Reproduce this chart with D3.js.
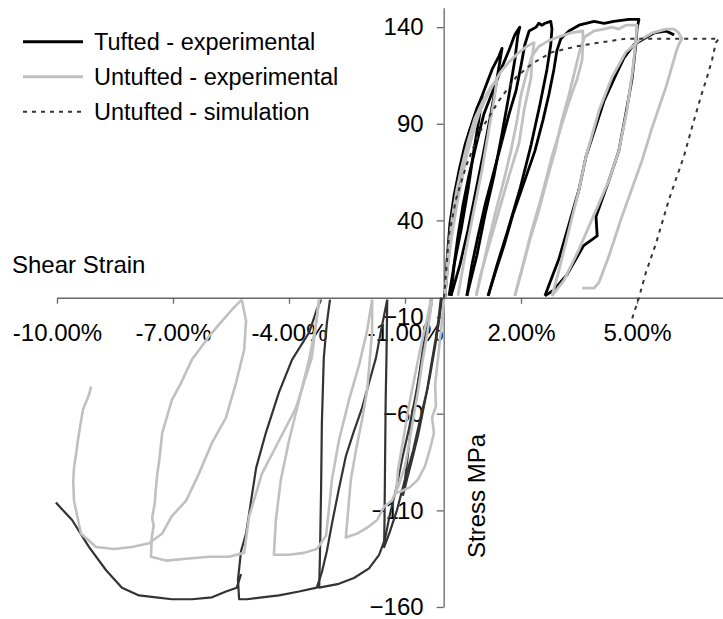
<!DOCTYPE html>
<html>
<head>
<meta charset="utf-8">
<script src="https://cdn.jsdelivr.net/npm/d3@7"></script>
<style>
    html, body { margin: 0; padding: 0; background: #fff; }
    #graph text { font-family: "Liberation Sans", Arial, sans-serif; font-size: 24px; fill: #000; }
</style>
</head>
<body>
<div id="graph"></div>
<script>
// axis ticks
var xTicks = [-10, -7, -4, -1, 2, 5];
var yTicks = [-160, -110, -60, -10, 40, 90, 140];
var seriesNames = ["Tufted - experimental", "Untufted - experimental", "Untufted - simulation"];

// [shear strain %, stress MPa], one inner array per loop
var tuftedPos = [
    [[0.03,0],[0.09,20],[0.16,38],[0.27,53],[0.40,66],[0.55,79],[0.71,89],[0.86,98],[0.99,104],[0.91,92],[0.78,76],[0.63,56],[0.45,35],[0.27,17],[0.14,1]],
    [[0.03,0],[0.09,14],[0.16,30],[0.27,45],[0.37,58],[0.50,71],[0.65,85],[0.84,96],[1.04,107],[1.25,118],[1.43,125],[1.51,129],[1.46,123],[1.35,110],[1.22,95],[1.04,76],[0.84,56],[0.63,35],[0.42,17],[0.19,1]],
    [[0.19,1],[0.27,17],[0.37,32],[0.50,48],[0.65,63],[0.84,79],[1.04,95],[1.27,107],[1.48,118],[1.69,128],[1.84,136],[1.97,140],[1.92,136],[1.84,123],[1.69,105],[1.51,85],[1.30,63],[1.07,43],[0.86,22],[0.60,1]],
    [[0.60,1],[0.73,17],[0.89,32],[1.07,48],[1.27,63],[1.48,79],[1.69,95],[1.87,107],[2.00,120],[2.10,131],[2.21,138],[2.39,140],[2.46,142],[2.54,141],[2.62,142],[2.77,143],[2.80,139],[2.77,131],[2.67,118],[2.49,100],[2.26,79],[1.97,56],[1.66,35],[1.38,17],[1.15,1]],
    [[1.15,1],[1.35,14],[1.56,27],[1.79,43],[2.05,58],[2.36,76],[2.57,92],[2.72,105],[2.85,118],[2.93,128],[3.03,134],[3.24,138],[3.50,141],[3.89,143],[4.15,142],[4.40,143],[4.79,144],[5.05,144],[5.00,139],[4.97,131],[4.87,113],[4.71,95],[4.53,76],[4.28,61],[3.94,42],[3.97,32],[3.62,27],[3.19,12],[2.85,4],[2.62,1]],
    [[2.62,1],[2.77,9],[2.98,20],[3.24,38],[3.50,56],[3.68,73],[3.94,89],[4.15,102],[4.40,113],[4.66,124],[4.92,131],[5.18,134],[5.44,137],[5.75,138],[5.96,136]]
];

var tuftedNeg = [
    [[-0.04,0],[-0.12,-12],[-0.22,-25],[-0.35,-40],[-0.51,-56],[-0.66,-71],[-0.82,-84],[-0.95,-94],[-1.05,-102],[-0.97,-89],[-0.85,-68],[-0.69,-48],[-0.54,-27],[-0.41,-12],[-0.33,-1]],
    [[-0.07,0],[-0.17,-17],[-0.30,-32],[-0.43,-48],[-0.61,-63],[-0.79,-79],[-1.00,-94],[-1.21,-110],[-1.39,-121],[-1.54,-129],[-1.53,-115],[-1.52,-94],[-1.51,-74],[-1.50,-53],[-1.48,-32],[-1.47,-17],[-1.46,-1]],
    [[-0.30,-1],[-0.43,-17],[-0.56,-32],[-0.72,-50],[-0.90,-68],[-1.08,-84],[-1.23,-99],[-1.39,-112],[-1.52,-125],[-1.67,-133],[-1.93,-140],[-2.32,-145],[-2.71,-148],[-3.22,-150],[-3.20,-134],[-3.17,-99],[-3.15,-65],[-3.10,-31],[-3.02,-13],[-2.94,-1]],
    [[-1.46,-1],[-1.62,-17],[-1.75,-31],[-1.93,-44],[-2.11,-57],[-2.32,-69],[-2.53,-82],[-2.71,-99],[-2.89,-117],[-3.02,-131],[-3.15,-142],[-3.28,-150],[-3.74,-152],[-4.26,-154],[-4.70,-155],[-5.09,-156],[-5.29,-156],[-5.32,-146],[-5.24,-131],[-5.11,-122],[-4.98,-105],[-4.85,-88],[-4.60,-70],[-4.26,-49],[-3.92,-32],[-3.48,-18],[-3.28,-6],[-3.17,-1]],
    [[-5.24,-143],[-5.35,-150],[-5.63,-152],[-5.99,-155],[-6.51,-156],[-7.03,-156],[-7.44,-155],[-7.88,-154],[-8.32,-150],[-8.73,-141],[-9.17,-129],[-9.61,-115],[-10.03,-106]]
];

var untuftedPos = [
    [[0.03,0],[0.11,22],[0.21,40],[0.34,56],[0.47,68],[0.63,81],[0.81,93],[1.02,102],[1.22,109],[1.38,113],[1.30,102],[1.17,87],[0.99,66],[0.78,45],[0.58,25],[0.37,1]],
    [[0.03,0],[0.11,17],[0.21,32],[0.34,48],[0.47,61],[0.60,74],[0.76,85],[0.91,95],[1.09,103],[1.27,110],[1.48,117],[1.69,122],[1.95,127],[2.15,130],[2.34,132],[2.28,123],[2.26,114],[2.08,97],[1.95,80],[1.69,63],[1.43,45],[1.17,27],[0.96,12],[0.84,1]],
    [[0.84,1],[0.99,14],[1.17,30],[1.35,45],[1.56,61],[1.74,76],[1.90,92],[2.00,105],[2.13,115],[2.28,125],[2.46,130],[2.72,133],[2.98,135],[3.29,137],[3.60,138],[3.60,131],[3.58,123],[3.45,113],[3.32,106],[3.06,90],[2.80,73],[2.54,53],[2.28,35],[2.05,17],[1.84,1]],
    [[1.84,1],[2.02,14],[2.23,30],[2.46,45],[2.67,61],[2.88,76],[3.06,92],[3.24,105],[3.40,118],[3.52,128],[3.65,135],[3.89,138],[4.15,139],[4.35,140],[4.53,139],[4.71,141],[5.00,141],[4.97,133],[4.89,118],[4.74,97],[4.53,76],[4.28,61],[3.89,43],[3.50,25],[3.11,9],[2.80,1]],
    [[2.80,1],[2.98,14],[3.24,35],[3.50,56],[3.68,73],[4.02,97],[4.35,114],[4.71,127],[5.05,133],[5.39,137],[5.75,139],[5.96,139],[6.08,137],[6.16,134],[6.08,131],[6.01,127],[5.75,109],[5.39,88],[5.13,71],[4.61,42],[4.28,22],[4.02,8],[3.89,5],[3.58,5]]
];

var untuftedNeg = [
    [[0.01,-1],[-0.07,-17],[-0.15,-32],[-0.22,-45],[-0.20,-56],[-0.30,-62],[-0.25,-70],[-0.35,-78],[-0.48,-87],[-0.66,-94],[-0.87,-98],[-1.08,-100],[-1.23,-101],[-1.18,-89],[-1.05,-74],[-0.90,-56],[-0.74,-40],[-0.59,-25],[-0.43,-11],[-0.33,-1]],
    [[-0.30,-1],[-0.41,-17],[-0.54,-32],[-0.66,-48],[-0.79,-63],[-0.90,-76],[-1.00,-87],[-1.16,-97],[-1.34,-105],[-1.54,-108],[-1.72,-115],[-1.98,-119],[-2.24,-122],[-2.53,-124],[-2.47,-110],[-2.40,-94],[-2.27,-79],[-2.11,-63],[-1.98,-48],[-1.91,-32],[-1.85,-17],[-1.85,-1]],
    [[-1.85,-1],[-1.98,-17],[-2.19,-35],[-2.45,-53],[-2.71,-74],[-2.89,-94],[-2.97,-110],[-3.04,-123],[-3.28,-130],[-3.61,-132],[-4.00,-133],[-4.39,-133],[-4.34,-115],[-4.21,-94],[-4.00,-74],[-3.74,-53],[-3.48,-32],[-3.33,-17],[-3.22,-1]],
    [[-3.22,-1],[-3.41,-31],[-3.82,-57],[-4.26,-74],[-4.70,-91],[-5.03,-113],[-5.16,-132],[-5.55,-134],[-6.07,-134],[-6.66,-135],[-7.18,-136],[-7.57,-134],[-7.55,-124],[-7.50,-118],[-7.54,-114],[-7.47,-106],[-7.44,-98],[-7.40,-90],[-7.36,-85],[-7.28,-70],[-7.03,-53],[-6.79,-44],[-6.51,-32],[-5.99,-18],[-5.47,-6],[-5.22,-1]],
    [[-5.22,-1],[-5.11,-12],[-5.16,-27],[-5.37,-44],[-5.63,-62],[-5.99,-75],[-6.33,-91],[-6.66,-105],[-7.03,-113],[-7.28,-122],[-7.62,-127],[-8.06,-129],[-8.53,-130],[-8.99,-129],[-9.38,-122],[-9.56,-105],[-9.58,-95],[-9.56,-88],[-9.50,-80],[-9.46,-74],[-9.43,-70],[-9.33,-58],[-9.17,-50],[-9.12,-46]]
];

var untuftedSim = [[0.01,0],[0.14,33],[0.32,51],[0.58,68],[0.91,85],[1.43,102],[1.87,114],[2.28,121],[2.80,127],[3.42,130],[4.02,132],[4.71,134],[5.57,134],[7.12,134],[7.04,132],[6.94,123],[6.81,114],[6.65,104],[6.42,88],[6.21,73],[5.83,51],[5.49,28],[5.23,13],[5.05,0],[4.87,-11]];

var width = 723,
    height = 619;

var svg = d3.select("#graph")
    .append("svg")
    .attr("width", width)
    .attr("height", height);

var xScale = d3.scaleLinear().domain([-10, 8]).range([57, 753]);
var yScale = d3.scaleLinear().domain([-160, 150]).range([607, 7.8]);

var xAxis = d3.axisBottom(xScale)
    .tickValues(xTicks)
    .tickSize(6)
    .tickSizeOuter(0)
    .tickPadding(20)
    .tickFormat(function (d) { return d.toFixed(2) + "%"; });

var yAxis = d3.axisLeft(yScale)
    .tickValues(yTicks)
    .tickSize(7)
    .tickSizeOuter(0)
    .tickPadding(13);

svg.append("g")
    .attr("class", "axis axis--x")
    .attr("transform", "translate(0," + yScale(0) + ")")
    .style("color", "#666")
    .call(xAxis);

svg.append("g")
    .attr("class", "axis axis--y")
    .attr("transform", "translate(" + xScale(0) + ",0)")
    .style("color", "#666")
    .call(yAxis);

svg.selectAll(".axis path, .axis line").attr("stroke-width", 1.3);

// axis titles
svg.append("text")
    .attr("x", 12)
    .attr("y", 273)
    .text("Shear Strain");

svg.append("text")
    .attr("transform", "translate(485,496) rotate(-90)")
    .attr("text-anchor", "middle")
    .text("Stress MPa");

var line = d3.line()
    .x(function (d) { return xScale(d[0]); })
    .y(function (d) { return yScale(d[1]); });

function drawLoops(loops, color, w, dash) {
    svg.append("g")
        .selectAll("path")
        .data(loops)
        .enter().append("path")
        .attr("d", line)
        .attr("fill", "none")
        .attr("stroke", color)
        .attr("stroke-width", w)
        .attr("stroke-dasharray", dash)
        .attr("stroke-linejoin", "round");
}

drawLoops(tuftedNeg, "#333", 2.2, null);
drawLoops(tuftedPos, "#000", 2.8, null);
drawLoops(untuftedNeg, "#c0c0c0", 2.6, null);
drawLoops(untuftedPos, "#c0c0c0", 2.8, null);
drawLoops([untuftedSim], "#333", 2, "4,5");

// legend
var legendStyle = [
    {color: "#000", w: 3, dash: null},
    {color: "#c0c0c0", w: 3, dash: null},
    {color: "#333", w: 2, dash: "4,5"}
];

var legend = svg.append("g").attr("class", "legend");
seriesNames.forEach(function (name, i) {
    var ly = 41.7 + i * 35;
    legend.append("line")
        .attr("x1", 23).attr("x2", 83)
        .attr("y1", ly).attr("y2", ly)
        .attr("stroke", legendStyle[i].color)
        .attr("stroke-width", legendStyle[i].w)
        .attr("stroke-dasharray", legendStyle[i].dash);
    legend.append("text")
        .attr("x", 94)
        .attr("y", ly + 8.5)
        .style("font-size", "23.5px")
        .text(name);
});
</script>
</body>
</html>
